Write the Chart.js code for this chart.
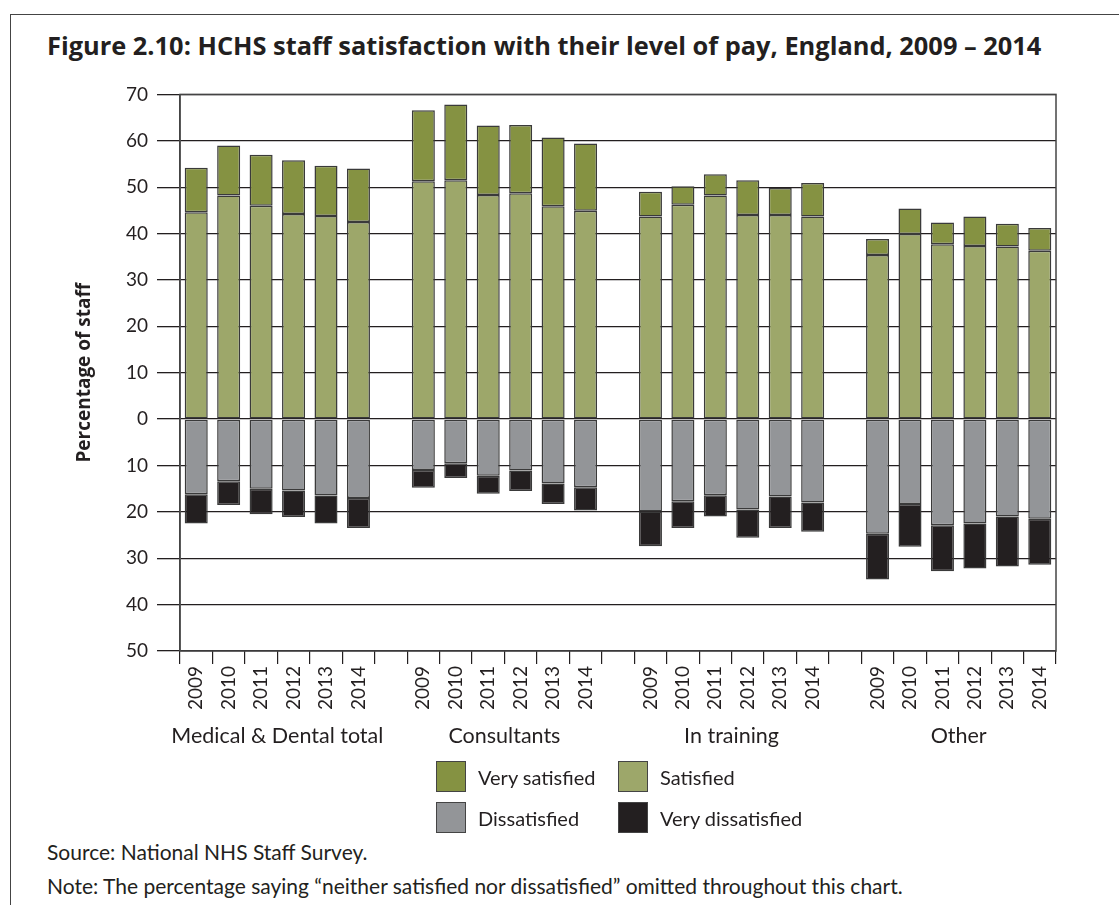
<!DOCTYPE html>
<html>
<head>
<meta charset="utf-8">
<script src="https://cdn.jsdelivr.net/npm/chart.js@4.4.1/dist/chart.umd.min.js"></script>
<style>
  html, body { margin: 0; padding: 0; background: #fff; }
  body { width: 1119px; height: 905px; position: relative; overflow: hidden; font-family: Lato, "Open Sans", sans-serif; color: #231f20; }
  #frame { position: absolute; left: 10px; top: 14px; width: 1200px; height: 1000px; border-left: 1.5px solid #444; border-top: 1.5px solid #444; }
  #title { position: absolute; left: 47px; top: 28px; font-family: "Open Sans", sans-serif; font-weight: bold; font-size: 25.4px; white-space: nowrap; }
  #chart-box { position: absolute; left: 0; top: 74px; width: 1119px; height: 696px; }
  #legend { position: absolute; left: 436px; top: 761px; display: grid; grid-template-columns: 182px 200px; row-gap: 10px; }
  .item { display: flex; align-items: center; font-size: 20px; height: 31px; }
  .swatch { width: 28px; height: 29px; border: 1.5px solid #444; margin-right: 12px; }
  .foot { position: absolute; left: 47px; font-size: 21px; white-space: nowrap; }
</style>
</head>
<body>
<div id="frame"></div>
<div id="title">Figure 2.10: HCHS staff satisfaction with their level of pay, England, 2009 – 2014</div>
<div id="chart-box"><canvas id="myChart"></canvas></div>
<div id="legend"></div>
<div class="foot" style="top:839px">Source: National NHS Staff Survey.</div>
<div class="foot" style="top:873px">Note: The percentage saying “neither satisfied nor dissatisfied” omitted throughout this chart.</div>
<script>
// Data (percent of staff)
const groups = ['Medical & Dental total', 'Consultants', 'In training', 'Other'];
const years = ['2009', '2010', '2011', '2012', '2013', '2014'];
const yTicks = [-50, -40, -30, -20, -10, 0, 10, 20, 30, 40, 50, 60, 70];

const satisfied = [
    [44.6, 48.2, 46.0, 44.2, 43.8, 42.5],
    [51.3, 51.5, 48.3, 48.7, 45.9, 44.9],
    [43.7, 46.2, 48.2, 44.0, 44.0, 43.7],
    [35.4, 39.9, 37.7, 37.3, 37.2, 36.3]
];
const verySatisfied = [
    [9.6, 10.8, 11.0, 11.6, 10.8, 11.5],
    [15.3, 16.3, 15.0, 14.7, 14.8, 14.5],
    [5.3, 4.0, 4.6, 7.5, 5.8, 7.2],
    [3.4, 5.5, 4.7, 6.4, 4.9, 4.9]
];
const dissatisfied = [
    [16.2, 13.4, 15.0, 15.4, 16.5, 17.0],
    [11.0, 9.5, 12.2, 11.1, 13.9, 14.7],
    [19.9, 17.7, 16.4, 19.5, 16.7, 18.0],
    [24.7, 18.3, 22.9, 22.5, 21.0, 21.5]
];
const veryDissatisfied = [
    [6.3, 5.1, 5.5, 5.7, 6.0, 6.5],
    [3.8, 3.2, 3.9, 4.4, 4.4, 5.0],
    [7.5, 5.8, 4.6, 6.1, 6.8, 6.3],
    [9.9, 9.2, 9.9, 9.7, 10.8, 9.9]
];

// Build slots: six years per group, one empty slot between groups
const labels = [];
const groupCenters = [];
function flatten(series, sign) {
    const out = [];
    series.forEach((vals, g) => {
        if (g > 0) out.push(null);
        vals.forEach(v => out.push(sign * v));
    });
    return out;
}
groups.forEach((name, g) => {
    if (g > 0) labels.push('');
    groupCenters.push(labels.length + 2.5);
    years.forEach(y => labels.push(y));
});

const series = [
    { label: 'Satisfied', data: flatten(satisfied, 1), color: '#9da76a' },
    { label: 'Very satisfied', data: flatten(verySatisfied, 1), color: '#859242' },
    { label: 'Dissatisfied', data: flatten(dissatisfied, -1), color: '#939598' },
    { label: 'Very dissatisfied', data: flatten(veryDissatisfied, -1), color: '#231f20' }
];

const ink = '#231f20';

// Group names under the year labels, plus the plot frame
const groupLabels = {
    id: 'groupLabels',
    afterDraw(chart) {
        const ctx = chart.ctx;
        const x = chart.scales.x;
        const area = chart.chartArea;
        ctx.save();
        ctx.strokeStyle = '#444';
        ctx.lineWidth = 1.5;
        ctx.strokeRect(area.left, area.top, area.right - area.left, area.bottom - area.top);
        ctx.fillStyle = ink;
        ctx.font = '21.5px Lato, "Open Sans", sans-serif';
        ctx.textAlign = 'center';
        ctx.textBaseline = 'middle';
        groups.forEach((name, i) => {
            const px = (x.getPixelForValue(Math.floor(groupCenters[i])) + x.getPixelForValue(Math.ceil(groupCenters[i]))) / 2;
            ctx.fillText(name, px, x.top + 85);
        });
        ctx.restore();
    }
};

new Chart('myChart', {
    type: 'bar',
    data: {
        labels: labels,
        datasets: series.map(s => ({
            label: s.label,
            data: s.data,
            backgroundColor: s.color,
            borderColor: '#3a3a3a',
            borderWidth: 1.5,
            borderSkipped: false,
            barPercentage: 0.71,
            categoryPercentage: 1
        }))
    },
    options: {
        responsive: true,
        maintainAspectRatio: false,
        animation: false,
        layout: { padding: { top: 8, right: 63, left: 73, bottom: 0 } },
        plugins: { legend: { display: false }, tooltip: { enabled: false } },
        scales: {
            x: {
                stacked: true,
                grid: { offset: true, drawOnChartArea: false, color: ink, lineWidth: 1.2, tickLength: 13 },
                border: { display: false },
                ticks: { color: ink, font: { size: 19, family: 'Lato, "Open Sans", sans-serif' }, maxRotation: 90, minRotation: 90, autoSkip: false, padding: 2 },
                afterFit(scale) { scale.height = 119; }
            },
            y: {
                stacked: true,
                min: -50,
                max: 70,
                afterBuildTicks(scale) { scale.ticks = yTicks.map(v => ({ value: v })); },
                grid: { color: ink, lineWidth: 1.3, tickLength: 23 },
                border: { color: '#444', width: 1.5 },
                ticks: { color: ink, font: { size: 19, family: 'Lato, "Open Sans", sans-serif' }, padding: 9, callback: v => Math.abs(v) },
                title: { display: true, text: 'Percentage of staff', color: ink, font: { size: 19, weight: 'bold', family: '"Open Sans", sans-serif' }, padding: 0 },
                afterFit(scale) { scale.width = 107; }
            }
        }
    },
    plugins: [groupLabels]
});

// Legend in the same 2x2 order as the figure
const legendOrder = [1, 0, 2, 3];
document.getElementById('legend').innerHTML = legendOrder.map(i =>
    `<div class="item"><div class="swatch" style="background:${series[i].color}"></div>${series[i].label}</div>`
).join('');
</script>
</body>
</html>
